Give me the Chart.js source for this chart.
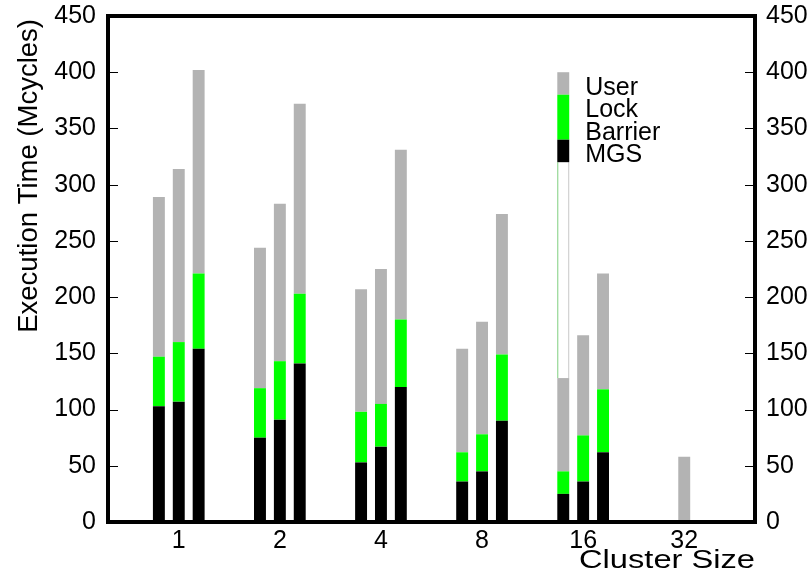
<!DOCTYPE html>
<html>
<head>
<meta charset="utf-8">
<script src="https://cdn.jsdelivr.net/npm/chart.js@4.4.1/dist/chart.umd.min.js"></script>
<style>
html,body{margin:0;padding:0;background:#ffffff;}
#wrap{width:812px;height:575px;}
</style>
</head>
<body>
<div id="wrap"><canvas id="c" width="812" height="575"></canvas></div>
<script>
// ---- data (Mcycles) ----
const clusterSizes = ['1', '2', '4', '8', '16', '32'];
const yTickValues = [0, 50, 100, 150, 200, 250, 300, 350, 400, 450];
const seriesNames = ['MGS', 'Barrier', 'Lock', 'User'];
const seriesColors = ['#000000', '#ffffff', '#00ff00', '#b3b3b3'];
const xTitle = 'Cluster Size';
const yTitle = 'Execution Time (Mcycles)';

// three bars per cluster size: A (left), B (middle), C (right)
const mgsA = [103, 75, 53, 36, 25, 0];
const mgsB = [107, 91, 67, 45, 36, 0];
const mgsC = [154, 141, 120, 90, 62, 0];

const barrierA = [0, 0, 0, 0, 0, 0];
const barrierB = [0, 0, 0, 0, 0, 0];
const barrierC = [0, 0, 0, 0, 0, 0];

const lockA = [44, 44, 45, 26, 20, 0];
const lockB = [53, 52, 38, 33, 41, 0];
const lockC = [67, 62, 60, 59, 56, 0];

const userA = [142, 125, 109, 92, 83, 0];
const userB = [154, 140, 120, 100, 89, 58];
const userC = [181, 169, 151, 125, 103, 0];

const stacks = {
  A: [mgsA, barrierA, lockA, userA],
  B: [mgsB, barrierB, lockB, userB],
  C: [mgsC, barrierC, lockC, userC]
};

const FONT = "'Liberation Sans', Arial, Helvetica, sans-serif";

const datasets = [];
Object.keys(stacks).forEach(function (key) {
  stacks[key].forEach(function (vals, si) {
    datasets.push({
      label: seriesNames[si] + ' ' + key,
      stack: key,
      data: vals.map(function (v, i) { return { x: i + 1, y: v }; }),
      backgroundColor: seriesColors[si],
      borderWidth: 0,
      categoryPercentage: 0.59,
      barPercentage: 0.6
    });
  });
});

function zeroPad(s) { s.paddingTop = 0; s.paddingBottom = 0; s.paddingLeft = 0; s.paddingRight = 0; }

const framePlugin = {
  id: 'frameAndLegend',
  afterDatasetsDraw: function (chart) {
    const ctx = chart.ctx;
    const ys = chart.scales.y;
    // key drawn over the first bar of the "16" group, as in the original figure
    const metaIdx = datasets.findIndex(function (d) { return d.stack === 'A'; });
    const el = chart.getDatasetMeta(metaIdx).data[4];
    const w = el.width;
    const x0 = el.x - w / 2;
    const barTop = mgsA[4] + barrierA[4] + lockA[4] + userA[4];
    const py = function (v) { return ys.getPixelForValue(v); };
    ctx.save();
    // white "Barrier" column
    ctx.fillStyle = '#ffffff';
    ctx.fillRect(x0, py(320), w, py(barTop) - py(320));
    ctx.lineWidth = 1;
    ctx.strokeStyle = '#7fcf7f';
    ctx.beginPath(); ctx.moveTo(x0 + 0.5, py(320)); ctx.lineTo(x0 + 0.5, py(barTop)); ctx.stroke();
    ctx.strokeStyle = '#c8c8c8';
    ctx.beginPath(); ctx.moveTo(x0 + w - 0.5, py(320)); ctx.lineTo(x0 + w - 0.5, py(barTop)); ctx.stroke();
    // swatches
    ctx.fillStyle = seriesColors[3];
    ctx.fillRect(x0, py(400), w, py(380) - py(400));
    ctx.fillStyle = seriesColors[2];
    ctx.fillRect(x0, py(380), w, py(340) - py(380));
    ctx.fillStyle = seriesColors[0];
    ctx.fillRect(x0, py(340), w, py(320) - py(340));
    // labels
    ctx.fillStyle = '#000000';
    ctx.font = '25px ' + FONT;
    ctx.textAlign = 'left';
    ctx.textBaseline = 'alphabetic';
    const tx = x0 + w + 16;
    ctx.fillText('User', tx, py(380));
    ctx.fillText('Lock', tx, py(360));
    ctx.fillText('Barrier', tx, py(340));
    ctx.fillText('MGS', tx, py(320));
    ctx.restore();
  },
  afterDraw: function (chart) {
    const ctx = chart.ctx;
    const a = chart.chartArea;
    const ys = chart.scales.y;
    ctx.save();
    ctx.strokeStyle = '#000000';
    ctx.lineWidth = 1;
    yTickValues.forEach(function (v) {
      const y = Math.round(ys.getPixelForValue(v)) + 0.5;
      ctx.beginPath();
      ctx.moveTo(a.left, y); ctx.lineTo(a.left + 10, y);
      ctx.moveTo(a.right, y); ctx.lineTo(a.right - 10, y);
      ctx.stroke();
    });
    ctx.lineWidth = 4;
    ctx.strokeRect(a.left, a.top, a.right - a.left, a.bottom - a.top);

    // axis titles
    ctx.fillStyle = '#000000';
    ctx.textBaseline = 'alphabetic';
    // x title: right-aligned under the plot, slightly stretched as in the original
    ctx.font = '25px ' + FONT;
    const wx = ctx.measureText(xTitle).width;
    const targetW = 176;
    const sx = targetW / wx;
    ctx.save();
    ctx.translate(a.right - targetW, 568);
    ctx.scale(sx, 1);
    ctx.textAlign = 'left';
    ctx.fillText(xTitle, 0, 0);
    ctx.restore();
    // y title: rotated, aligned toward the top
    ctx.save();
    ctx.font = '27.5px ' + FONT;
    ctx.translate(37, 19);
    ctx.rotate(-Math.PI / 2);
    ctx.textAlign = 'right';
    ctx.fillText(yTitle, 0, 0);
    ctx.restore();
    ctx.restore();
  }
};

new Chart(document.getElementById('c'), {
  type: 'bar',
  data: { datasets: datasets },
  plugins: [framePlugin],
  options: {
    responsive: false,
    animation: false,
    devicePixelRatio: 1,
    layout: { padding: { top: 16, left: 0, right: 0, bottom: 0 } },
    plugins: { legend: { display: false }, tooltip: { enabled: false } },
    scales: {
      x: {
        type: 'linear',
        stacked: true,
        offset: false,
        min: 0.3,
        max: 6.7,
        grid: { display: false, drawTicks: false, offset: false },
        border: { display: false },
        afterBuildTicks: function (s) {
          s.ticks = clusterSizes.map(function (_, i) { return { value: i + 1 }; });
        },
        afterFit: function (s) { s.height = 53; zeroPad(s); },
        ticks: {
          autoSkip: false,
          maxRotation: 0,
          padding: 4,
          color: '#000000',
          font: { family: FONT, size: 25 },
          callback: function (v) { return clusterSizes[v - 1] !== undefined ? clusterSizes[v - 1] : ''; }
        }
      },
      y: {
        position: 'left',
        stacked: true,
        min: 0,
        max: 450,
        grid: { display: false, drawTicks: false },
        border: { display: false },
        afterBuildTicks: function (s) { s.ticks = yTickValues.map(function (v) { return { value: v }; }); },
        afterFit: function (s) { s.width = 108; zeroPad(s); },
        ticks: { padding: 12, color: '#000000', font: { family: FONT, size: 25 } }
      },
      y2: {
        position: 'right',
        min: 0,
        max: 450,
        grid: { display: false, drawTicks: false },
        border: { display: false },
        afterBuildTicks: function (s) { s.ticks = yTickValues.map(function (v) { return { value: v }; }); },
        afterFit: function (s) { s.width = 57; zeroPad(s); },
        ticks: { padding: 11, color: '#000000', font: { family: FONT, size: 25 } }
      }
    }
  }
});
</script>
</body>
</html>
